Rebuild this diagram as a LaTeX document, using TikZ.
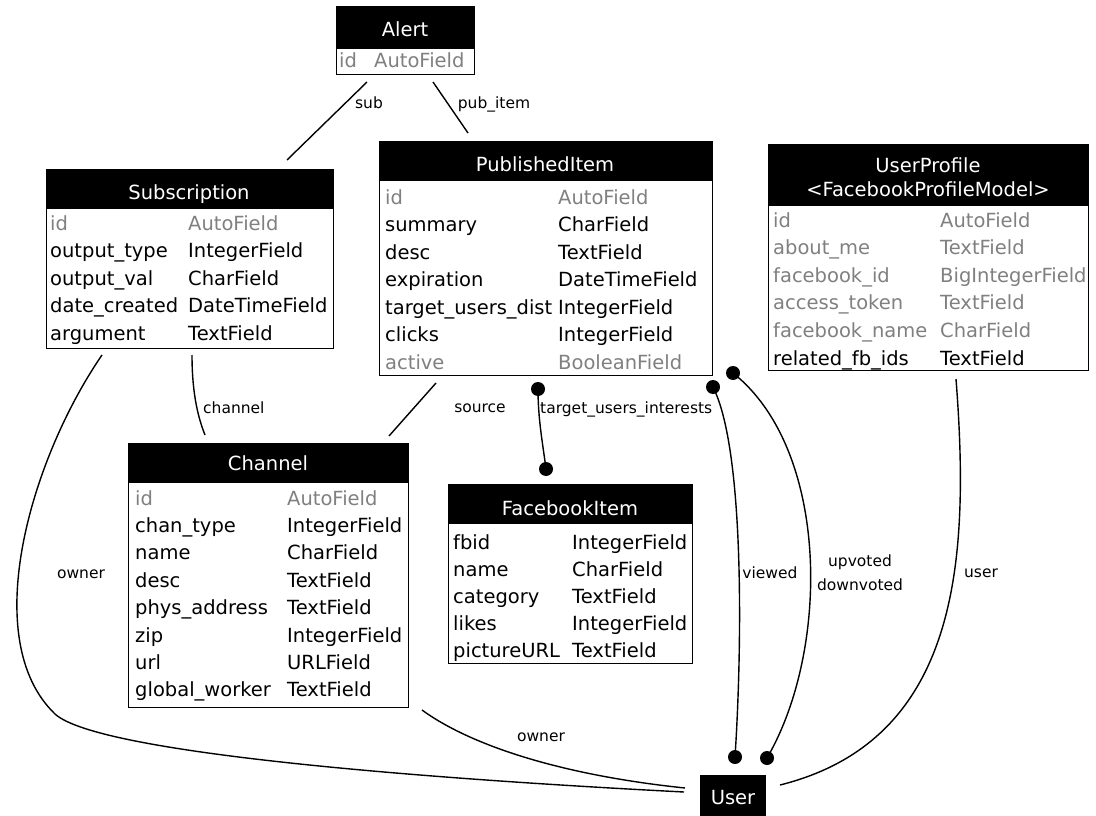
\documentclass[tikz,border=0pt]{standalone}
\usepackage{fontspec}
\setmainfont{DejaVu Sans}
\usetikzlibrary{calc}
\definecolor{fieldgray}{RGB}{128,128,128}
\tikzset{
  tbl/.style={draw=black, line width=1.3pt, fill=white, inner sep=0pt, anchor=north west},
  hdr/.style={draw=black, line width=1.3pt, fill=black, inner sep=0pt, anchor=north west},
  ttl/.style={anchor=base, inner sep=0pt, text=white, font=\fontsize{19.5}{23}\selectfont},
  fld/.style={anchor=base west, inner sep=0pt, font=\fontsize{19.5}{23}\selectfont},
  rel/.style={line width=1.4pt},
  lbl/.style={inner sep=0pt, font=\fontsize{15.5}{24}\selectfont},
  enddot/.style={circle, fill=black, minimum size=14pt, inner sep=0pt},
}
% table frame: name, x, y, width, height, header height
\newcommand{\ertable}[6]{%
  \node[tbl, minimum width=#4pt, minimum height=#5pt] (#1) at (#2,#3) {};
  \node[hdr, minimum width=#4pt, minimum height=#6pt] (#1-head) at (#2,#3) {};
}
\begin{document}
\begin{tikzpicture}[x=1pt, y=-1pt]
\useasboundingbox (0,0) rectangle (1096,816);

% ---------- Alert ----------
\ertable{alert}{336}{6}{138}{68}{42}
\node[ttl] (alert-title) at (405,37) {Alert};
\node[fld, text=fieldgray] (alert-n0) at (339,68) {id};
\node[fld, text=fieldgray] (alert-t0) at (374,68) {AutoField};

% ---------- Subscription ----------
\ertable{sub}{46}{169}{287}{179}{39}
\node[ttl] (sub-title) at (189,199) {Subscription};
\foreach \a/\b/\c [count=\i from 0] in {
  id/AutoField/fieldgray,
  output\_type/IntegerField/black,
  output\_val/CharField/black,
  date\_created/DateTimeField/black,
  argument/TextField/black} {
  \node[fld, text=\c] (sub-n\i) at (50, 230+27.6*\i) {\a};
  \node[fld, text=\c] (sub-t\i) at (188, 230+27.6*\i) {\b};
}

% ---------- PublishedItem ----------
\ertable{pub}{379}{141}{333}{234}{39}
\node[ttl] (pub-title) at (545,171) {PublishedItem};
\foreach \a/\b/\c [count=\i from 0] in {
  id/AutoField/fieldgray,
  summary/CharField/black,
  desc/TextField/black,
  expiration/DateTimeField/black,
  target\_users\_dist/IntegerField/black,
  clicks/IntegerField/black,
  active/BooleanField/fieldgray} {
  \node[fld, text=\c] (pub-n\i) at (385, 204+27.5*\i) {\a};
  \node[fld, text=\c] (pub-t\i) at (558, 204+27.5*\i) {\b};
}

% ---------- UserProfile ----------
\ertable{prof}{768}{144}{320}{226}{61}
\node[ttl] (prof-title) at (928,172) {UserProfile};
\node[ttl] (prof-sub) at (928,196) {<FacebookProfileModel>};
\foreach \a/\b/\c [count=\i from 0] in {
  id/AutoField/fieldgray,
  about\_me/TextField/fieldgray,
  facebook\_id/BigIntegerField/fieldgray,
  access\_token/TextField/fieldgray,
  facebook\_name/CharField/fieldgray,
  related\_fb\_ids/TextField/black} {
  \node[fld, text=\c] (prof-n\i) at (773, 227+27.6*\i) {\a};
  \node[fld, text=\c] (prof-t\i) at (940, 227+27.6*\i) {\b};
}

% ---------- Channel ----------
\ertable{chan}{128}{443}{280}{264}{39}
\node[ttl] (chan-title) at (268,470) {Channel};
\foreach \a/\b/\c [count=\i from 0] in {
  id/AutoField/fieldgray,
  chan\_type/IntegerField/black,
  name/CharField/black,
  desc/TextField/black,
  phys\_address/TextField/black,
  zip/IntegerField/black,
  url/URLField/black,
  global\_worker/TextField/black} {
  \node[fld, text=\c] (chan-n\i) at (135, 505+27.4*\i) {\a};
  \node[fld, text=\c] (chan-t\i) at (287, 505+27.4*\i) {\b};
}

% ---------- FacebookItem ----------
\ertable{fbi}{448}{484}{244}{179}{39}
\node[ttl] (fbi-title) at (570,515) {FacebookItem};
\foreach \a/\b/\c [count=\i from 0] in {
  fbid/IntegerField/black,
  name/CharField/black,
  category/TextField/black,
  likes/IntegerField/black,
  pictureURL/TextField/black} {
  \node[fld, text=\c] (fbi-n\i) at (453, 549+27.1*\i) {\a};
  \node[fld, text=\c] (fbi-t\i) at (572, 549+27.1*\i) {\b};
}

% ---------- User ----------
\node[hdr, minimum width=65pt, minimum height=40pt] (user) at (700,775) {};
\node[ttl] (user-title) at (733,804) {User};

% ---------- connector end points ----------
\coordinate (sub-a) at (367,82);   \coordinate (sub-b) at (287,160);
\coordinate (pi-a) at (433,82);    \coordinate (pi-b) at (468,133);
\coordinate (ch-a) at (192,355);   \coordinate (ch-b) at (205,435);
\coordinate (src-a) at (436,383);  \coordinate (src-b) at (389,436);
\coordinate (us-a) at (956,379);   \coordinate (us-b) at (780,785);
\coordinate (ow1-a) at (102,355);  \coordinate (ow1-m) at (55,714);
\coordinate (ow1-b) at (684,792);
\coordinate (ow2-a) at (422,710);  \coordinate (ow2-b) at (685,788);
\node[enddot] (tui-a) at (538,389) {};
\node[enddot] (tui-b) at (546,469) {};
\node[enddot] (vw-a) at (713,387) {};
\node[enddot] (vw-b) at (735,757) {};
\node[enddot] (ud-a) at (733,373) {};
\node[enddot] (ud-b) at (767,758) {};

% ---------- connectors ----------
\draw[rel] (sub-a) -- (sub-b);
\draw[rel] (pi-a) -- (pi-b);
\draw[rel] (ch-a) .. controls (192,390) and (197,415) .. (ch-b);
\draw[rel] (src-a) -- (src-b);
\draw[rel] (tui-a.center) .. controls (538,420) and (543,445) .. (tui-b.center);
\draw[rel] (vw-a.center) .. controls (745,450) and (742,650) .. (vw-b.center);
\draw[rel] (ud-a.center) .. controls (830,450) and (830,650) .. (ud-b.center);
\draw[rel] (us-a) .. controls (970,560) and (960,740) .. (us-b);
\draw[rel] (ow1-a) .. controls (30,460) and (-22,640) .. (ow1-m)
                   .. controls (100,755) and (450,780) .. (ow1-b);
\draw[rel] (ow2-a) .. controls (470,745) and (560,775) .. (ow2-b);

% ---------- connector labels ----------
\node[lbl] (sub-lbl) at (369,103) {sub};
\node[lbl] (pi-lbl) at (494,104) {pub\_item};
\node[lbl, anchor=west] (ch-lbl) at (203,408) {channel};
\node[lbl] (src-lbl) at (480,408) {source};
\node[lbl, anchor=west] (tui-lbl) at (540,409) {target\_users\_interests};
\node[lbl] (vw-lbl) at (770,573) {viewed};
\node[lbl, align=center] (ud-lbl) at (860,573) {upvoted\\downvoted};
\node[lbl] (us-lbl) at (981,573) {user};
\node[lbl] (ow1-lbl) at (81,574) {owner};
\node[lbl] (ow2-lbl) at (541,737) {owner};
\end{tikzpicture}
\end{document}
